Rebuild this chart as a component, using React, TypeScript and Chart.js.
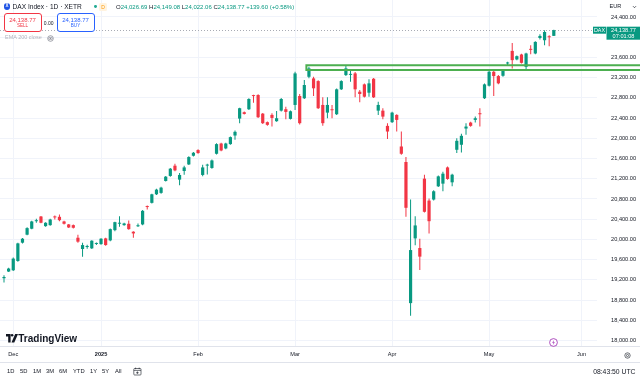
import React, { useEffect, useRef } from 'react';
import { Chart, registerables } from 'chart.js';

Chart.register(...registerables);

// ---- data (daily candles, XETR DAX) ----
const opens = [
  19232, 19364, 19389, 19573, 19935, 20093, 20211, 20360, 20453, 20262,
  20282, 20445, 20447, 20355, 20296, 20282, 20033, 19810, 19850, 19823,
  19910, 19907, 20020, 19980, 20183, 20310, 20282, 20309, 20152, 20260,
  20296, 20650, 20723, 20892, 20920, 21156, 21255, 21458, 21182, 21353,
  21483, 21655, 21767, 21275, 21460, 21413, 21694, 21897, 21799, 21885,
  22055, 22390, 22516, 22575, 22845, 22856, 22488, 22319, 22463, 22338,
  22547, 22575, 22384, 22660, 22837, 22792, 23217, 23185, 23132, 22660,
  22508, 22570, 22476, 22969, 23251, 23255, 23284, 22922, 23067, 22902,
  23178, 22547, 22547, 22246, 22319, 22463, 21838, 21531, 18739, 20020,
  19829, 21202, 20768, 20788, 21050, 21103, 21424, 21129, 21773, 21872,
  22193, 22311, 22364, 22496, 22792, 23040, 23316, 23231, 23237, 23480,
  23729, 23560, 23658, 23414, 23765, 23678, 23985, 23940, 24005, 24026.69,
];
const highs = [
  19291, 19440, 19640, 19935, 20030, 20240, 20370, 20408, 20465, 20340,
  20410, 20473, 20493, 20370, 20305, 20295, 20093, 19935, 19896, 19985,
  19941, 20025, 20035, 20215, 20350, 20459, 20330, 20374, 20160, 20315,
  20580, 20670, 20905, 21000, 21040, 21255, 21410, 21497, 21314, 21458,
  21645, 21730, 21785, 21478, 21497, 21580, 21900, 21910, 21910, 22035,
  22153, 22605, 22530, 22790, 22862, 22870, 22500, 22330, 22496, 22541,
  22795, 22626, 22550, 23316, 22876, 23152, 23414, 23217, 23150, 22811,
  22811, 22660, 22985, 23150, 23448, 23349, 23310, 22955, 23085, 23166,
  23195, 22725, 22595, 22299, 22525, 22475, 22134, 21629, 20788, 20459,
  20014, 21281, 20808, 20970, 21265, 21340, 21440, 21300, 22003, 22088,
  22299, 22325, 22429, 22595, 23085, 23335, 23363, 23250, 23365, 23513,
  23887, 23640, 23675, 23690, 23842, 23920, 24058, 24137, 24039, 24149.08,
];
const lows = [
  19147, 19356, 19375, 19560, 19920, 20080, 20200, 20329, 20318, 20250,
  20270, 20394, 20361, 20295, 20225, 20215, 19935, 19659, 19817, 19810,
  19888, 19895, 19875, 19965, 20163, 20250, 20270, 20191, 20033, 20243,
  20280, 20591, 20710, 20880, 20905, 21145, 21240, 21346, 21070, 21281,
  21470, 21640, 21695, 21247, 21286, 21400, 21680, 21745, 21785, 21870,
  21970, 22299, 22470, 22560, 22705, 22400, 22285, 22250, 22232, 22325,
  22530, 22378, 22370, 22561, 22275, 22778, 23186, 22837, 22580, 22246,
  22398, 22398, 22460, 22955, 23231, 23118, 22811, 22713, 22805, 22823,
  22795, 22463, 22378, 21984, 22305, 22134, 21675, 20447, 18489, 19882,
  19395, 20530, 20118, 20770, 21035, 20952, 21180, 21050, 21708, 21720,
  22069, 22230, 22311, 22232, 22775, 23025, 22837, 23070, 23220, 23448,
  23383, 23545, 23478, 23349, 23664, 23665, 23954, 23842, 23822, 24022.06,
];
const closes = [
  19257, 19423, 19620, 19921, 20014, 20223, 20355, 20368, 20329, 20329,
  20394, 20435, 20380, 20309, 20236, 20230, 19955, 19888, 19860, 19974,
  19920, 20014, 19888, 20203, 20341, 20315, 20315, 20203, 20118, 20276,
  20565, 20640, 20892, 20985, 21024, 21241, 21399, 21365, 21275, 21424,
  21629, 21714, 21708, 21424, 21472, 21562, 21885, 21759, 21897, 22023,
  22128, 22595, 22482, 22778, 22835, 22417, 22299, 22266, 22403, 22397,
  22778, 22522, 22535, 23284, 22299, 23054, 23383, 22989, 22595, 22299,
  22660, 22555, 22969, 23132, 23383, 23270, 22969, 22876, 22823, 23087,
  22811, 22660, 22429, 22134, 22508, 22364, 21694, 20625, 19789, 20276,
  19659, 20546, 20360, 20952, 21247, 21300, 21196, 21280, 21950, 22049,
  22232, 22246, 22397, 22476, 23067, 23316, 23231, 23087, 23349, 23500,
  23546, 23625, 23493, 23678, 23750, 23907, 24025, 24103, 23999, 24138.77,
];

const monthLabels = ['Dec', '2025', 'Feb', 'Mar', 'Apr', 'May', 'Jun'];
const monthIndex = [2, 21, 42, 63, 84, 105, 125];
const priceTicks = [18000, 18400, 18800, 19200, 19600, 20000, 20400, 20800, 21200, 21600, 22000, 22400, 22800, 23200, 23600, 24000, 24400];
const zoneTop = 23443;
const zoneBottom = 23352;
const zoneStart = 65.45;
const lastClose = 24138.77;
const countdown = '07:01:08';
const rangeButtons = ['1D', '5D', '1M', '3M', '6M', 'YTD', '1Y', '5Y', 'All'];
const rangeX = [7, 20, 33, 46, 59, 73, 90, 102, 115];

const FONT = '"Liberation Sans", Arial, sans-serif';
const GREEN = '#089981';
const RED = '#f23645';
const TEXT = '#131722';
const GRID = '#f0f3fa';

Chart.defaults.font.family = FONT;

function fmt(v: number) {
  const [i, d] = v.toFixed(2).split('.');
  return i.replace(/\B(?=(\d{3})+(?!\d))/g, ',') + '.' + d;
}

const overlayPlugin = {
  id: 'tvOverlay',
  beforeDatasetsDraw(chart: any) {
    const { ctx, chartArea, scales } = chart;
    const py = Math.round(scales.y.getPixelForValue(lastClose)) + 0.5;
    ctx.save();
    ctx.strokeStyle = '#a8abb4';
    ctx.lineWidth = 1;
    ctx.setLineDash([1, 2]);
    ctx.beginPath();
    ctx.moveTo(chartArea.left, py);
    ctx.lineTo(chartArea.right, py);
    ctx.stroke();
    ctx.restore();
  },
  afterDraw(chart: any) {
    const { ctx, scales, width, chartArea } = chart;
    const { x, y } = scales;
    ctx.save();
    // drawn rectangle zone
    const x0 = x.getPixelForValue(zoneStart);
    const yt = y.getPixelForValue(zoneTop);
    const yb = y.getPixelForValue(zoneBottom);
    ctx.strokeStyle = '#4caf50';
    ctx.lineWidth = 2;
    ctx.beginPath();
    ctx.moveTo(width + 2, yt);
    ctx.lineTo(x0, yt);
    ctx.lineTo(x0, yb);
    ctx.lineTo(width + 2, yb);
    ctx.stroke();
    // price scale labels
    ctx.font = `5.6px ${FONT}`;
    ctx.fillStyle = TEXT;
    ctx.textAlign = 'right';
    ctx.textBaseline = 'middle';
    priceTicks.forEach((v) => ctx.fillText(fmt(v), 636, y.getPixelForValue(v)));
    // last price tag
    const py = y.getPixelForValue(lastClose);
    ctx.fillStyle = GREEN;
    ctx.fillRect(chartArea.right - 4, py - 3.5, 13, 7);
    ctx.fillRect(chartArea.right + 9.5, py - 3.5, width - chartArea.right - 9.5, 13);
    ctx.fillStyle = '#ffffff';
    ctx.textAlign = 'center';
    ctx.font = `5.4px ${FONT}`;
    ctx.fillText('DAX', chartArea.right + 2.5, py + 0.3);
    ctx.font = `5.6px ${FONT}`;
    ctx.fillText(fmt(lastClose), chartArea.right + 26.5, py + 0.3);
    ctx.fillText(countdown, chartArea.right + 26.5, py + 6.6);
    ctx.restore();
  },
};

function T(props: any) {
  const { x, y, s, c = TEXT, w = 400, align = 'left', children } = props;
  const tx = align === 'left' ? '0' : align === 'right' ? '-100%' : '-50%';
  return (
    <div
      style={{
        position: 'absolute',
        left: x,
        top: y,
        fontSize: s,
        lineHeight: 1,
        color: c,
        fontWeight: w,
        whiteSpace: 'nowrap',
        transform: `translate(${tx}, -50%)`,
      }}
    >
      {children}
    </div>
  );
}

export default function App() {
  const ref = useRef<HTMLCanvasElement>(null);

  useEffect(() => {
    document.body.style.margin = '0';
    const idx = closes.map((_, i) => i);
    const colors = closes.map((c, i) => (c >= opens[i] ? GREEN : RED));
    const chart = new Chart(ref.current as HTMLCanvasElement, {
      type: 'bar',
      data: {
        datasets: [
          {
            label: 'wick',
            data: idx.map((i) => ({ x: i, y: [lows[i], highs[i]] })) as any,
            backgroundColor: colors,
            borderWidth: 0,
            maxBarThickness: 1,
            grouped: false,
            order: 2,
          } as any,
          {
            label: 'body',
            data: idx.map((i) => ({ x: i, y: [opens[i], closes[i]] })) as any,
            backgroundColor: colors,
            borderWidth: 0,
            maxBarThickness: 3.2,
            minBarLength: 1,
            grouped: false,
            order: 1,
          } as any,
        ],
      },
      options: {
        animation: false,
        responsive: false,
        maintainAspectRatio: false,
        layout: { padding: 0 },
        plugins: { legend: { display: false }, tooltip: { enabled: false } },
        scales: {
          x: {
            type: 'linear',
            min: -0.866,
            max: 128.35,
            offset: false,
            position: 'bottom',
            grid: { color: GRID, drawTicks: false, offset: false },
            border: { display: false },
            afterBuildTicks: (s: any) => {
              s.ticks = monthIndex.map((v) => ({ value: v }));
            },
            afterFit: (s: any) => {
              s.height = 16;
            },
            ticks: {
              autoSkip: false,
              maxRotation: 0,
              padding: 5,
              color: TEXT,
              callback: (_v: any, i: number) => monthLabels[i],
              font: (ctx: any) => ({ size: 5.6, family: FONT, weight: ctx.index === 1 ? 'bold' : 'normal' }),
            },
          },
          y: {
            type: 'linear',
            position: 'right',
            min: 17891,
            max: 24736,
            grid: { color: GRID, drawTicks: false },
            border: { display: false },
            afterBuildTicks: (s: any) => {
              s.ticks = priceTicks.map((v) => ({ value: v }));
            },
            afterFit: (s: any) => {
              s.width = 43;
            },
            ticks: { display: false },
          },
        },
      } as any,
      plugins: [overlayPlugin],
    });
    return () => chart.destroy();
  }, []);

  return (
    <div
      style={{
        position: 'relative',
        width: 640,
        height: 378,
        background: '#ffffff',
        overflow: 'hidden',
        fontFamily: FONT,
        color: TEXT,
      }}
    >
      <canvas ref={ref} width={640} height={362} style={{ position: 'absolute', left: 0, top: 0, width: 640, height: 362 }} />

      {/* separators */}
      <div style={{ position: 'absolute', left: 0, top: 346, width: 640, height: 1, background: '#e0e3eb' }} />
      <div style={{ position: 'absolute', left: 0, top: 362, width: 640, height: 1, background: '#e0e3eb' }} />

      {/* header row 1 */}
      <div style={{ position: 'absolute', left: 3.7, top: 3.4, width: 6.6, height: 6.6, borderRadius: '50%', background: '#1e53e5', color: '#fff', fontSize: 4.5, lineHeight: '6.6px', textAlign: 'center', fontWeight: 700 }}>X</div>
      <T x={12.5} y={6.9} s={6.6}>DAX Index · 1D · XETR</T>
      <div style={{ position: 'absolute', left: 94.4, top: 5.4, width: 2.8, height: 2.8, borderRadius: '50%', background: '#22ab94' }} />
      <div style={{ position: 'absolute', left: 99, top: 3, width: 8, height: 7.5, borderRadius: 1.5, background: '#fff3e0' }} />
      <T x={103} y={6.9} s={5} c="#ff9800" align="center">D</T>
      <T x={116} y={6.9} s={6} c={GREEN}>
        <span style={{ color: TEXT }}>O</span>24,026.69 <span style={{ color: TEXT }}>H</span>24,149.08{' '}
        <span style={{ color: TEXT }}>L</span>24,022.06 <span style={{ color: TEXT }}>C</span>24,138.77 +139.60 (+0.58%)
      </T>

      {/* sell / buy */}
      <div style={{ position: 'absolute', left: 4, top: 13.3, width: 35.5, height: 16.5, border: `1px solid ${RED}`, borderRadius: 3, background: '#fff' }} />
      <T x={22.5} y={19.6} s={6} c={RED} align="center">24,138.77</T>
      <T x={22.5} y={26} s={4.6} c={RED} align="center">SELL</T>
      <T x={48.7} y={22.7} s={5} align="center">0.00</T>
      <div style={{ position: 'absolute', left: 57, top: 13.3, width: 35.5, height: 16.5, border: '1px solid #2962ff', borderRadius: 3, background: '#fff' }} />
      <T x={75.5} y={19.6} s={6} c="#2962ff" align="center">24,138.77</T>
      <T x={75.5} y={26} s={4.6} c="#2962ff" align="center">BUY</T>

      {/* indicator label */}
      <T x={5} y={38.3} s={5.5} c="#b2b5be">EMA 200 close</T>
      <svg style={{ position: 'absolute', left: 46.5, top: 35, width: 7, height: 7 }} viewBox="0 0 7 7">
        <circle cx="3.5" cy="3.5" r="2.8" fill="none" stroke="#787b86" strokeWidth="0.7" />
        <ellipse cx="3.5" cy="3.5" rx="1.8" ry="1.1" fill="none" stroke="#787b86" strokeWidth="0.6" />
        <circle cx="3.5" cy="3.5" r="0.6" fill="#787b86" />
      </svg>

      {/* price scale header */}
      <T x={609.5} y={6.8} s={5.6}>EUR</T>
      <svg style={{ position: 'absolute', left: 632, top: 5, width: 5, height: 4 }} viewBox="0 0 5 4">
        <path d="M1 1.2 L2.5 2.7 L4 1.2" fill="none" stroke="#131722" strokeWidth="0.7" />
      </svg>

      {/* TradingView logo */}
      <svg style={{ position: 'absolute', left: 5.5, top: 334, width: 12, height: 9 }} viewBox="0 0 12 9">
        <path d="M0 0 H4.6 V8.6 H2.2 V2.6 H0 Z" fill="#131722" />
        <circle cx="6.1" cy="1.3" r="1.3" fill="#131722" />
        <path d="M9.2 0 H12 L8.3 8.6 H5.5 Z" fill="#131722" />
      </svg>
      <T x={18.3} y={338.6} s={10} w={700}>TradingView</T>

      {/* event marker */}
      <svg style={{ position: 'absolute', left: 548.5, top: 337.5, width: 9, height: 9 }} viewBox="0 0 9 9">
        <circle cx="4.5" cy="4.5" r="3.9" fill="#ffffff" stroke="#9c27b0" strokeWidth="0.8" />
        <path d="M5 2 L3.2 4.8 H4.6 L4 7 L5.8 4.2 H4.4 Z" fill="#9c27b0" />
      </svg>

      {/* gear */}
      <svg style={{ position: 'absolute', left: 623.5, top: 351.5, width: 7, height: 7 }} viewBox="0 0 7 7">
        <circle cx="3.5" cy="3.5" r="2.7" fill="none" stroke="#131722" strokeWidth="0.6" />
        <circle cx="3.5" cy="3.5" r="1.1" fill="none" stroke="#131722" strokeWidth="0.6" />
      </svg>

      {/* bottom toolbar */}
      {rangeButtons.map((b, i) => (
        <T key={b} x={rangeX[i]} y={371.7} s={5.8}>{b}</T>
      ))}
      <svg style={{ position: 'absolute', left: 133, top: 367, width: 9, height: 9 }} viewBox="0 0 9 9">
        <rect x="0.8" y="1.5" width="7.2" height="6.5" rx="0.8" fill="none" stroke="#131722" strokeWidth="0.6" />
        <path d="M0.8 3.4 H8 M2.6 0.6 V2.2 M6.2 0.6 V2.2 M4.4 4.4 V7 M3.1 5.7 H5.7" fill="none" stroke="#131722" strokeWidth="0.6" />
      </svg>
      <T x={635.5} y={371.7} s={6.8} align="right">08:43:50 UTC</T>
    </div>
  );
}
